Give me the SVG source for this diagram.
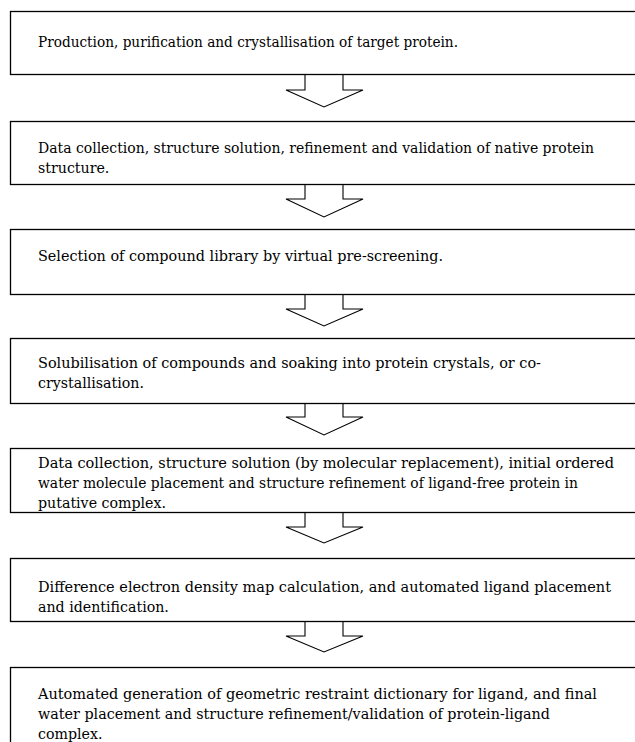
<svg xmlns="http://www.w3.org/2000/svg" width="635" height="742" viewBox="0 0 635 742">
<style>
.box{fill:#fff;stroke:#000;stroke-width:1.3}
.arr{fill:#fff;stroke:#000;stroke-width:1.1;stroke-linejoin:miter}
</style>
<rect width="635" height="742" fill="#fff"/>
<g id="connectors">
<path class="arr" d="M305,75 V90 H286 L324,107 L363,90 H343 V75"/>
<path class="arr" d="M305,184 V199 H286 L324,217 L363,199 H343 V184"/>
<path class="arr" d="M305,294 V309 H286 L324,326 L363,309 H343 V294"/>
<path class="arr" d="M305,403 V417 H286 L324,435 L363,417 H343 V403"/>
<path class="arr" d="M305,512 V527 H286 L324,543 L363,527 H343 V512"/>
<path class="arr" d="M305,621 V636 H286 L324,652 L363,636 H343 V621"/>
</g>
<g font-family="DejaVu Serif, serif" font-size="14.2" fill="#000">
<g id="n1"><rect class="box" x="10.5" y="11.5" width="640" height="63"/>
<text x="38" y="47" textLength="420" lengthAdjust="spacingAndGlyphs">Production, purification and crystallisation of target protein.</text></g>
<g id="n2"><rect class="box" x="10.5" y="121.5" width="640" height="63"/>
<text x="38" y="153" textLength="556" lengthAdjust="spacingAndGlyphs">Data collection, structure solution, refinement and validation of native protein</text>
<text x="38" y="173">structure.</text></g>
<g id="n3"><rect class="box" x="10.5" y="229.5" width="640" height="65"/>
<text x="38" y="261" textLength="405" lengthAdjust="spacingAndGlyphs">Selection of compound library by virtual pre-screening.</text></g>
<g id="n4"><rect class="box" x="10.5" y="338.5" width="640" height="65"/>
<text x="38" y="368" textLength="503" lengthAdjust="spacingAndGlyphs">Solubilisation of compounds and soaking into protein crystals, or co-</text>
<text x="38" y="388">crystallisation.</text></g>
<g id="n5"><rect class="box" x="10.5" y="448.5" width="640" height="64"/>
<text x="38" y="468" textLength="576" lengthAdjust="spacingAndGlyphs">Data collection, structure solution (by molecular replacement), initial ordered</text>
<text x="38" y="488" textLength="540" lengthAdjust="spacingAndGlyphs">water molecule placement and structure refinement of ligand-free protein in</text>
<text x="38" y="508">putative complex.</text></g>
<g id="n6"><rect class="box" x="10.5" y="558.5" width="640" height="63"/>
<text x="38" y="592" textLength="573" lengthAdjust="spacingAndGlyphs">Difference electron density map calculation, and automated ligand placement</text>
<text x="38" y="612">and identification.</text></g>
<g id="n7"><rect class="box" x="10.5" y="667.5" width="640" height="90"/>
<text x="38" y="699" textLength="559" lengthAdjust="spacingAndGlyphs">Automated generation of geometric restraint dictionary for ligand, and final</text>
<text x="38" y="719" textLength="512" lengthAdjust="spacingAndGlyphs">water placement and structure refinement/validation of protein-ligand</text>
<text x="38" y="739">complex.</text></g>
</g>
</svg>
